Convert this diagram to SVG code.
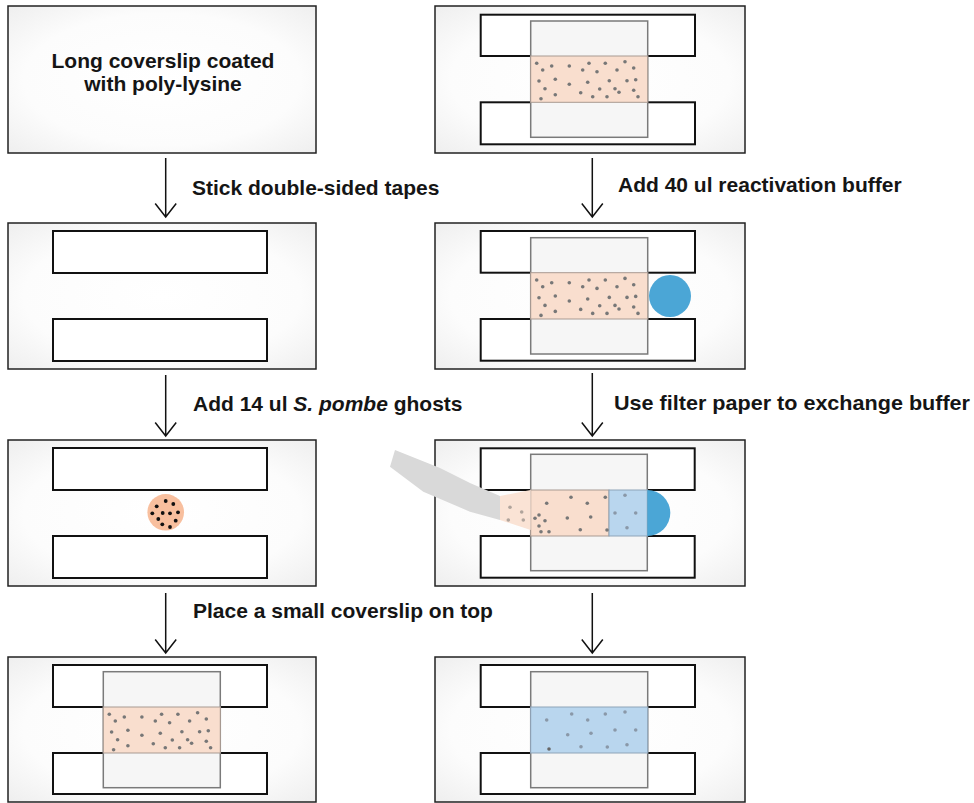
<svg xmlns="http://www.w3.org/2000/svg" xmlns:xlink="http://www.w3.org/1999/xlink" width="974" height="803" viewBox="0 0 974 803">
<defs>
<radialGradient id="bg" cx="0.5" cy="0.5" r="0.75">
<stop offset="0" stop-color="#ffffff"/>
<stop offset="0.6" stop-color="#fcfcfc"/>
<stop offset="1" stop-color="#ececec"/>
</radialGradient>
<g id="dots" fill="#777">
<circle cx="6" cy="7.3" r="1.8"/><circle cx="12" cy="14" r="1.8"/><circle cx="21" cy="10" r="1.8"/><circle cx="38.6" cy="10" r="1.8"/><circle cx="52" cy="14" r="1.8"/><circle cx="58.3" cy="7.3" r="1.8"/><circle cx="66.3" cy="15.7" r="1.8"/><circle cx="74.6" cy="7.3" r="1.8"/><circle cx="86.3" cy="14" r="1.8"/><circle cx="94.3" cy="5.7" r="1.8"/><circle cx="103" cy="12" r="1.8"/><circle cx="8.3" cy="25" r="1.8"/><circle cx="24.6" cy="23.3" r="1.8"/><circle cx="38.6" cy="28.3" r="1.8"/><circle cx="57" cy="26.3" r="1.8"/><circle cx="78.6" cy="24.7" r="1.8"/><circle cx="96.3" cy="24.7" r="1.8"/><circle cx="105" cy="23.7" r="1.8"/><circle cx="14.3" cy="32.7" r="1.8"/><circle cx="69" cy="33" r="1.8"/><circle cx="84.3" cy="32.7" r="1.8"/><circle cx="88.3" cy="36.3" r="1.8"/><circle cx="103" cy="34.3" r="1.8"/><circle cx="10.3" cy="42.7" r="1.8"/><circle cx="24.6" cy="38.7" r="1.8"/><circle cx="50" cy="36.7" r="1.8"/><circle cx="62" cy="40.7" r="1.8"/><circle cx="76.3" cy="40.7" r="1.8"/><circle cx="107.3" cy="40.7" r="1.8"/>
</g>
</defs>
<style>
.panel{fill:url(#bg);stroke:#222;stroke-width:1.5}
.tape{fill:#ffffff;stroke:#111;stroke-width:2}
.slip{fill:#f6f6f6;stroke:#7a7a7a;stroke-width:1.5}
.peach{fill:#f9dece;stroke:#a89a92;stroke-width:1}
.blue{fill:#b9d6ee;stroke:#8ea4b8;stroke-width:1}
.drop{fill:#4ba6d6}
.lbl{font-family:"Liberation Sans",Arial,Helvetica,sans-serif;font-weight:bold;font-size:21px;fill:#151515}
.arr{fill:none;stroke:#111;stroke-width:1.5}
</style>

<g id="panel1">
<rect class="panel" x="8" y="6" width="308" height="147"/>
<text class="lbl" x="163" y="68" text-anchor="middle">Long coverslip coated</text>
<text class="lbl" x="163" y="91" text-anchor="middle">with poly-lysine</text>
</g>

<g id="panel2">
<rect class="panel" x="8" y="223" width="308" height="146"/>
<rect class="tape" x="53" y="231" width="214" height="42"/>
<rect class="tape" x="53" y="319" width="214" height="42"/>
</g>

<g id="panel3">
<rect class="panel" x="8" y="440" width="308" height="146"/>
<rect class="tape" x="53" y="448" width="214" height="42"/>
<rect class="tape" x="53" y="536" width="214" height="42"/>
<circle cx="165.7" cy="512.3" r="18.3" fill="#f8bf9e"/>
<g fill="#111">
<circle cx="165.7" cy="501" r="1.9"/><circle cx="156.7" cy="506.3" r="1.9"/><circle cx="173.3" cy="504" r="1.9"/><circle cx="152.3" cy="513.3" r="1.9"/><circle cx="162.7" cy="513" r="1.9"/><circle cx="170" cy="513.3" r="1.9"/><circle cx="178" cy="512.3" r="1.9"/><circle cx="158.3" cy="519" r="1.9"/><circle cx="175.7" cy="520.7" r="1.9"/><circle cx="162.3" cy="524.3" r="1.9"/><circle cx="170" cy="527" r="1.9"/>
</g>
</g>

<g id="panel4">
<rect class="panel" x="8" y="657" width="308" height="145"/>
<rect class="tape" x="53" y="665" width="214" height="42"/>
<rect class="tape" x="53" y="753" width="214" height="41"/>
<rect class="slip" x="103.3" y="671.7" width="117" height="116"/>
<rect class="peach" x="103.3" y="707" width="117" height="46"/>
<use xlink:href="#dots" x="103.3" y="707"/>
</g>

<g id="panel5">
<rect class="panel" x="435" y="6" width="310" height="147"/>
<rect class="tape" x="480.7" y="14.7" width="214.3" height="41.3"/>
<rect class="tape" x="480.7" y="102.3" width="214.3" height="42"/>
<rect class="slip" x="530.7" y="21" width="117" height="116.3"/>
<rect class="peach" x="530.7" y="56" width="117" height="46.3"/>
<use xlink:href="#dots" x="530.7" y="56"/>
</g>

<g id="panel6">
<rect class="panel" x="435" y="223" width="310" height="146"/>
<rect class="tape" x="480.7" y="231" width="214.3" height="41.7"/>
<rect class="tape" x="480.7" y="319" width="214.3" height="41.7"/>
<rect class="slip" x="530.7" y="237.7" width="117" height="116.3"/>
<rect class="peach" x="530.7" y="272.7" width="117" height="46.3"/>
<use xlink:href="#dots" x="530.7" y="272.7"/>
<circle class="drop" cx="670" cy="296" r="21"/>
</g>

<g id="panel7">
<rect class="panel" x="435" y="440" width="310" height="146"/>
<rect class="tape" x="480.7" y="448.3" width="214" height="41.7"/>
<rect class="tape" x="480.7" y="536" width="214" height="41.7"/>
<rect class="slip" x="530.7" y="454.3" width="116.6" height="116.4"/>
<rect class="peach" x="530.7" y="490" width="78.3" height="46"/>
<rect class="blue" x="609" y="490" width="38.3" height="46"/>
<path class="drop" d="M647.3,490 A23,23 0 0 1 647.3,536 Z"/>
<polygon points="395,450 390,466.7 423.3,491.7 470,511.7 500,520 500,496 470,483 440,468" fill="#d9d9d9"/>
<polygon points="500,496 530.7,490 530.7,530 500,520" fill="#fae3d5"/>
<g fill="#777">
<circle cx="510" cy="507.3" r="1.8" fill="#b0a49c"/><circle cx="521.7" cy="512" r="1.8" fill="#b0a49c"/><circle cx="508.3" cy="520" r="1.8" fill="#b0a49c"/><circle cx="523.3" cy="520" r="1.8" fill="#b0a49c"/>
<circle cx="546.7" cy="503.3" r="1.8"/><circle cx="571" cy="497.3" r="1.8"/><circle cx="587.3" cy="503.3" r="1.8"/><circle cx="605.3" cy="497.3" r="1.8"/><circle cx="535" cy="518.3" r="1.8"/><circle cx="539" cy="515" r="1.8"/><circle cx="545" cy="520.7" r="1.8"/><circle cx="539" cy="526" r="1.8"/><circle cx="541" cy="531.7" r="1.8"/><circle cx="549" cy="531.7" r="1.8"/><circle cx="567.3" cy="518" r="1.8"/><circle cx="590.7" cy="517" r="1.8"/><circle cx="580.3" cy="529.7" r="1.8"/><circle cx="607" cy="530" r="1.8"/>
</g>
<g fill="#8a98a8">
<circle cx="625" cy="495.3" r="1.8"/><circle cx="615" cy="513" r="1.8"/><circle cx="635.7" cy="513" r="1.8"/><circle cx="627" cy="527.7" r="1.8"/>
</g>
</g>

<g id="panel8">
<rect class="panel" x="435" y="657" width="310" height="145"/>
<rect class="tape" x="480.7" y="665" width="214.3" height="42"/>
<rect class="tape" x="480.7" y="753" width="214.3" height="41"/>
<rect class="slip" x="530.7" y="671.7" width="117" height="116"/>
<rect class="blue" x="530.7" y="707" width="117" height="46"/>
<g fill="#8a98a8">
<circle cx="546.7" cy="720" r="1.8"/><circle cx="571.7" cy="714" r="1.8"/><circle cx="587.7" cy="720" r="1.8"/><circle cx="605.3" cy="714" r="1.8"/><circle cx="625" cy="712" r="1.8"/><circle cx="567.7" cy="734.7" r="1.8"/><circle cx="591" cy="733.3" r="1.8"/><circle cx="615" cy="730" r="1.8"/><circle cx="635.7" cy="730" r="1.8"/><circle cx="549" cy="749" r="1.8" fill="#666"/><circle cx="581" cy="746.7" r="1.8"/><circle cx="607.3" cy="747" r="1.8"/><circle cx="627" cy="744.7" r="1.8"/>
</g>
</g>

<g id="connectors">
<path class="arr" d="M165.7,158 V217 M155.2,203.5 L165.7,217 L176.2,203.5"/>
<path class="arr" d="M165.7,375 V436 M155.2,422.5 L165.7,436 L176.2,422.5"/>
<path class="arr" d="M165.7,593 V653 M155.2,639.5 L165.7,653 L176.2,639.5"/>
<path class="arr" d="M592.3,158 V217 M581.8,203.5 L592.3,217 L602.8,203.5"/>
<path class="arr" d="M592.3,373 V436 M581.8,422.5 L592.3,436 L602.8,422.5"/>
<path class="arr" d="M592.3,593 V653 M581.8,639.5 L592.3,653 L602.8,639.5"/>
<text class="lbl" x="192" y="195">Stick double-sided tapes</text>
<text class="lbl" x="193" y="411">Add 14 ul <tspan font-style="italic">S. pombe</tspan> ghosts</text>
<text class="lbl" x="193" y="618">Place a small coverslip on top</text>
<text class="lbl" x="618" y="192">Add 40 ul reactivation buffer</text>
<text class="lbl" x="614" y="410" textLength="356" lengthAdjust="spacingAndGlyphs">Use filter paper to exchange buffer</text>
</g>
</svg>
